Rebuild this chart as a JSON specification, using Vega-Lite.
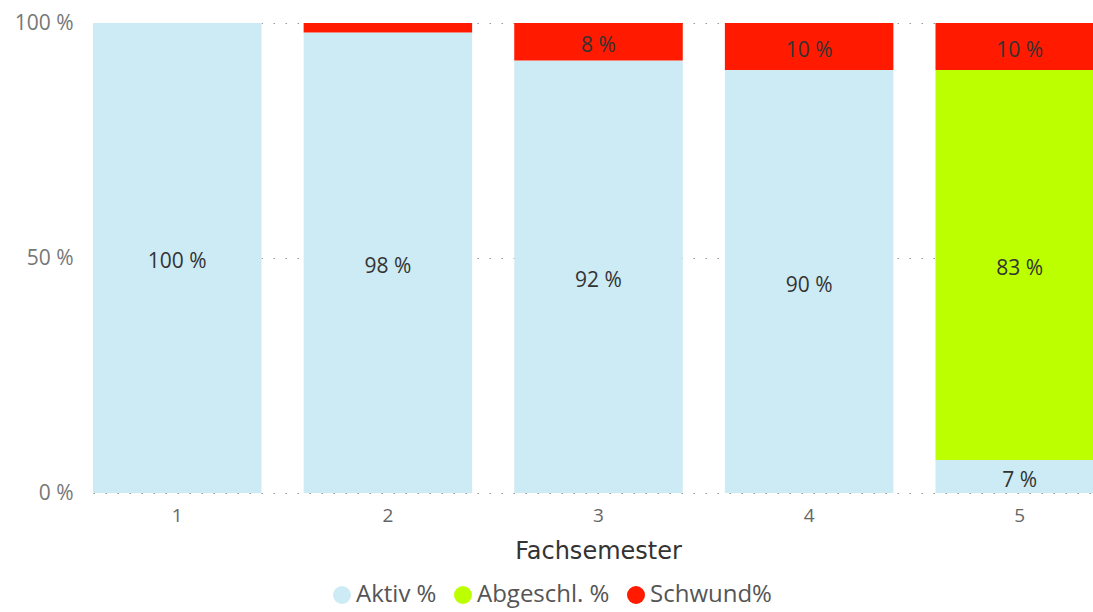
{
  "$schema": "https://vega.github.io/schema/vega-lite/v6.json",
  "width": 1000,
  "height": 470,
  "autosize": {"type": "none"},
  "padding": {"left": 93, "top": 23, "right": 0, "bottom": 119},
  "background": "white",
  "config": {
    "view": {"stroke": null},
    "font": "Open Sans"
  },
  "data": {
    "values": [
      {"Fachsemester": "1", "Status": "Aktiv %", "Wert": 100},
      {"Fachsemester": "1", "Status": "Abgeschl. %", "Wert": 0},
      {"Fachsemester": "1", "Status": "Schwund%", "Wert": 0},
      {"Fachsemester": "2", "Status": "Aktiv %", "Wert": 98},
      {"Fachsemester": "2", "Status": "Abgeschl. %", "Wert": 0},
      {"Fachsemester": "2", "Status": "Schwund%", "Wert": 2},
      {"Fachsemester": "3", "Status": "Aktiv %", "Wert": 92},
      {"Fachsemester": "3", "Status": "Abgeschl. %", "Wert": 0},
      {"Fachsemester": "3", "Status": "Schwund%", "Wert": 8},
      {"Fachsemester": "4", "Status": "Aktiv %", "Wert": 90},
      {"Fachsemester": "4", "Status": "Abgeschl. %", "Wert": 0},
      {"Fachsemester": "4", "Status": "Schwund%", "Wert": 10},
      {"Fachsemester": "5", "Status": "Aktiv %", "Wert": 7},
      {"Fachsemester": "5", "Status": "Abgeschl. %", "Wert": 83},
      {"Fachsemester": "5", "Status": "Schwund%", "Wert": 10}
    ]
  },
  "transform": [
    {"calculate": "indexof(['Aktiv %', 'Abgeschl. %', 'Schwund%'], datum.Status)", "as": "Rang"},
    {"stack": "Wert", "groupby": ["Fachsemester"], "sort": [{"field": "Rang", "order": "ascending"}], "as": ["y0", "y1"]},
    {"calculate": "(datum.y0 + datum.y1) / 2", "as": "Mitte"},
    {"calculate": "datum.Wert + ' %'", "as": "Beschriftung"}
  ],
  "encoding": {
    "x": {
      "field": "Fachsemester",
      "type": "ordinal",
      "scale": {"paddingInner": 0.2, "paddingOuter": 0, "range": [0, 1011]},
      "axis": {
        "labelAngle": 0,
        "domain": false,
        "ticks": false,
        "grid": false,
        "labelPadding": 13,
        "labelFontSize": 19,
        "labelColor": "#666666",
        "title": "Fachsemester",
        "titleFont": "DejaVu Sans",
        "titleFontSize": 24,
        "titleFontWeight": "normal",
        "titleColor": "#333333",
        "titleX": 505,
        "titleY": 58,
        "titleBaseline": "middle",
        "titleAlign": "center"
      }
    }
  },
  "layer": [
    {
      "mark": {"type": "bar"},
      "encoding": {
        "y": {
          "field": "y0",
          "type": "quantitative",
          "scale": {"domain": [0, 100]},
          "axis": {
            "values": [0, 50, 100],
            "labelExpr": "datum.value + ' %'",
            "domain": false,
            "ticks": false,
            "grid": true,
            "gridDash": [1.5, 10.5],
            "gridColor": "#999999",
            "labelPadding": 20,
            "labelFontSize": 21,
            "labelColor": "#777777",
            "title": null
          }
        },
        "y2": {"field": "y1"},
        "color": {
          "field": "Status",
          "type": "nominal",
          "scale": {
            "domain": ["Aktiv %", "Abgeschl. %", "Schwund%"],
            "range": ["#CDEBF5", "#BBFF00", "#FF1A00"]
          },
          "legend": {
            "orient": "none",
            "legendX": 237,
            "legendY": 560,
            "direction": "horizontal",
            "title": null,
            "symbolType": "circle",
            "symbolSize": 324,
            "symbolStrokeWidth": 0,
            "labelFontSize": 24,
            "labelColor": "#555555",
            "labelOffset": 2,
            "columnPadding": 14
          }
        }
      }
    },
    {
      "transform": [{"filter": "datum.Wert >= 5"}],
      "mark": {"type": "text", "fontSize": 21, "color": "#333333", "dy": 4, "baseline": "middle"},
      "encoding": {
        "y": {"field": "Mitte", "type": "quantitative"},
        "text": {"field": "Beschriftung"}
      }
    }
  ]
}
